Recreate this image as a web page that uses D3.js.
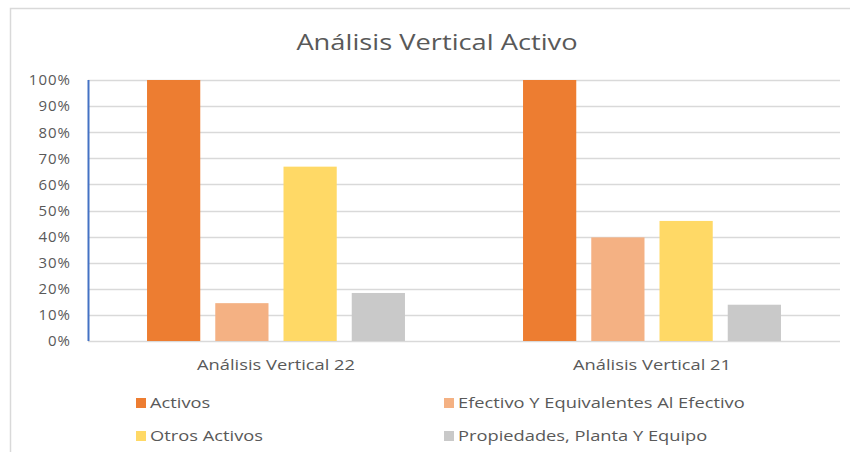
<!DOCTYPE html>
<html>
<head>
<meta charset="utf-8">
<script src="https://cdn.jsdelivr.net/npm/d3@7"></script>
<style>
  body { margin: 0; background: #fff; }
  text { font-family: "Open Sans", "DejaVu Sans", sans-serif; fill: #595959; }
</style>
</head>
<body>
<div id="chart-container"></div>
<script>
// data
let categories = ["Análisis Vertical 22", "Análisis Vertical 21"];
let seriesNames = ["Activos", "Efectivo Y Equivalentes Al Efectivo", "Otros Activos", "Propiedades, Planta Y Equipo"];
let activos = [100, 100];
let efectivo = [14.5, 39.7];
let otros = [66.8, 46.0];
let propiedades = [18.4, 13.9];
let yTicks = [0, 10, 20, 30, 40, 50, 60, 70, 80, 90, 100];
let colors = ["#ED7D31", "#F4B183", "#FFD966", "#C9C9C9"];

let seriesValues = [activos, efectivo, otros, propiedades];

let W = 850, H = 452;
let margin = {top: 80, right: 10, bottom: 111, left: 88},
    width = W - margin.left - margin.right,
    height = H - margin.top - margin.bottom;

// the reference text is a bit stretched horizontally
let stretch = 1.22;

let svg = d3.select("#chart-container")
    .append("svg")
    .attr("width", W)
    .attr("height", H);

// outer border
svg.append("rect")
    .attr("x", 10.5).attr("y", 8.5)
    .attr("width", W).attr("height", H)
    .attr("fill", "none")
    .attr("stroke", "#d9d9d9")
    .attr("stroke-width", 1.5);

// title
svg.append("text")
    .attr("transform", "translate(437,50) scale(" + 1.24 + ",1)")
    .attr("text-anchor", "middle")
    .style("font-size", "22px")
    .text("Análisis Vertical Activo");

let g = svg.append("g")
    .attr("transform", "translate(" + margin.left + "," + margin.top + ")");

let x0 = d3.scaleBand()
    .domain(categories)
    .range([0, width]);

let x1 = d3.scaleBand()
    .domain(d3.range(seriesNames.length))
    .range([x0.bandwidth() * 0.157, x0.bandwidth() * 0.843])
    .paddingInner(0.22);

let y = d3.scaleLinear()
    .domain([0, 100])
    .range([height, 0]);

// gridlines
g.append("g")
    .attr("class", "grid")
    .selectAll("line")
    .data(yTicks)
    .enter()
    .append("line")
    .attr("x1", 0)
    .attr("x2", width)
    .attr("y1", d => Math.round(y(d)) + 0.5)
    .attr("y2", d => Math.round(y(d)) + 0.5)
    .attr("stroke", "#d9d9d9")
    .attr("stroke-width", 1.5);

// y axis labels
let yAxis = d3.axisLeft(y)
    .tickValues(yTicks)
    .tickFormat(d => d + "%")
    .tickSize(0)
    .tickPadding(17);
let ya = g.append("g").call(yAxis);
ya.select(".domain").remove();
ya.selectAll("text")
    .style("font-size", "15px")
    .style("letter-spacing", "1px")
    .attr("fill", "#595959");

// bars
let rows = [];
categories.forEach((c, ci) => {
    seriesValues.forEach((vals, si) => {
        rows.push({cat: c, s: si, v: vals[ci]});
    });
});

g.selectAll("rect.bar")
    .data(rows)
    .enter()
    .append("rect")
    .attr("class", "bar")
    .attr("x", d => x0(d.cat) + x1(d.s))
    .attr("y", d => y(d.v))
    .attr("width", x1.bandwidth())
    .attr("height", d => height - y(d.v))
    .attr("fill", d => colors[d.s]);

// blue axis line on the left
g.append("line")
    .attr("x1", 0.5).attr("x2", 0.5)
    .attr("y1", 0).attr("y2", height)
    .attr("stroke", "#4472C4")
    .attr("stroke-width", 2);

// x axis labels
g.append("g")
    .selectAll("text")
    .data(categories)
    .enter()
    .append("text")
    .attr("transform", d => "translate(" + (x0(d) + x0.bandwidth() / 2) + "," + (height + 29) + ") scale(" + stretch + ",1)")
    .attr("text-anchor", "middle")
    .style("font-size", "15px")
    .text(d => d);

// legend
let legendPos = [[136, 403], [444, 403], [136, 436], [444, 436]];
let legend = svg.append("g")
    .selectAll("g")
    .data(seriesNames)
    .enter()
    .append("g")
    .attr("transform", (d, i) => "translate(" + legendPos[i][0] + "," + legendPos[i][1] + ")");
legend.append("rect")
    .attr("x", 0).attr("y", -5)
    .attr("width", 10).attr("height", 10)
    .attr("fill", (d, i) => colors[i]);
legend.append("text")
    .attr("transform", "translate(14,0) scale(" + stretch + ",1)")
    .attr("dy", "0.35em")
    .style("font-size", "15px")
    .text(d => d);
</script>
</body>
</html>
